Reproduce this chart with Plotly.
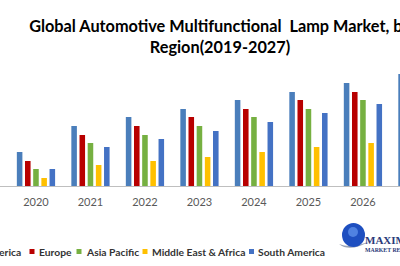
import plotly.graph_objects as go

years = ["2020", "2021", "2022", "2023", "2024", "2025", "2026", "2027"]
north_america = [3.4, 6.0, 6.9, 7.7, 8.6, 9.4, 10.3, 11.2]
europe = [2.5, 5.1, 6.0, 6.9, 7.7, 8.6, 9.4, 10.3]
asia_pacific = [1.7, 4.3, 5.1, 6.0, 6.9, 7.7, 8.6, 9.4]
middle_east_africa = [0.8, 2.1, 2.5, 2.9, 3.4, 3.9, 4.3, 4.7]
south_america = [1.7, 3.9, 4.7, 5.5, 6.4, 7.3, 8.2, 9.0]

series = [
    ("North America", north_america, "#4A7EBB"),
    ("Europe", europe, "#B80000"),
    ("Asia Pacific", asia_pacific, "#76B041"),
    ("Middle East & Africa", middle_east_africa, "#FFC000"),
    ("South America", south_america, "#4472C4"),
]

fig = go.Figure()
for name, vals, col in series:
    fig.add_trace(go.Bar(x=years, y=vals, name=name, marker=dict(color=col, line=dict(width=0)),
                         showlegend=False))

W, H = 400, 266
baseline = 186
top = 60

def py(pix):
    return (baseline - pix) / (baseline - top)

fig.update_layout(
    width=W, height=H,
    margin=dict(l=0, r=0, t=top, b=H - baseline, pad=0),
    paper_bgcolor="white", plot_bgcolor="white",
    barmode="group", bargap=0.25, bargroupgap=0.32,
    title=dict(
        text="Global Automotive Multifunctional\u00a0 Lamp Market, by<br>Region(2019-2027)",
        x=0.55, xanchor="center", xref="paper",
        y=1 - 31.5 / H, yanchor="top", yref="container",
        font=dict(family="Lato", size=16.3, color="#000000", weight=700),
    ),
    xaxis=dict(
        type="category", range=[-0.66, 6.68], showgrid=False, zeroline=False,
        showline=True, linecolor="#BFBFBF", linewidth=1, ticks="",
        tickfont=dict(family="Lato", size=11, color="#595959"),
        ticklabelstandoff=6,
    ),
    yaxis=dict(range=[0, (baseline - top) / 10], visible=False, showgrid=False),
    showlegend=False,
)

# legend row (swatches + labels)
legend_y = 251.5
legend_font = dict(family="Lato", size=10.3, color="#333333", weight=700)
legend_items = [
    ("North America", "#4A7EBB", None, 23),
    ("Europe", "#B80000", 29.5, 37),
    ("Asia Pacific", "#76B041", 76.5, 84),
    ("Middle East & Africa", "#FFC000", 142.5, 150),
    ("South America", "#4472C4", 249, 256),
]
for name, col, sx, tx in legend_items:
    if sx is not None:
        fig.add_shape(type="rect", xref="paper", yref="paper",
                      x0=sx / W, x1=(sx + 5) / W,
                      y0=py(legend_y + 2.5), y1=py(legend_y - 2.5),
                      fillcolor=col, line=dict(width=0))
    fig.add_annotation(text=name, xref="paper", yref="paper",
                       x=tx / W, xanchor="right" if sx is None else "left",
                       y=py(legend_y), yanchor="middle",
                       showarrow=False, font=legend_font)

# logo
fig.add_shape(type="path", xref="paper", yref="paper",
              path=f"M {339/W},{py(244)} Q {350/W},{py(253)} {370/W},{py(241)} Q {352/W},{py(249)} {339/W},{py(244)} Z",
              fillcolor="#9AA3B5", line=dict(width=0))
fig.add_shape(type="circle", xref="paper", yref="paper",
              x0=342 / W, x1=365 / W, y0=py(247), y1=py(223),
              fillcolor="#1E4FC0", line=dict(width=0))
fig.add_shape(type="circle", xref="paper", yref="paper",
              x0=348 / W, x1=358 / W, y0=py(237), y1=py(227),
              fillcolor="#5C8EE8", line=dict(width=0), opacity=0.8)
fig.add_annotation(text="MAXIMIZE", xref="paper", yref="paper", x=363 / W, xanchor="left",
                   y=py(240), yanchor="middle", showarrow=False,
                   font=dict(family="Liberation Serif", size=11, color="#2B3A7A", weight=700))
fig.add_annotation(text="MARKET RESEARCH", xref="paper", yref="paper", x=363 / W, xanchor="left",
                   y=py(249.5), yanchor="middle", showarrow=False,
                   font=dict(family="Liberation Serif", size=5.8, color="#2B3A7A", weight=700))

fig.write_html("out.html")
